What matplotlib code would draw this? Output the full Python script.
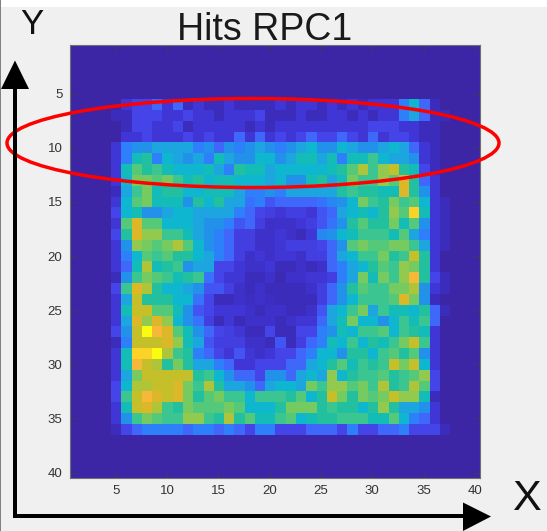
import numpy as np
import matplotlib
matplotlib.use("Agg")
import matplotlib.pyplot as plt
from matplotlib.colors import LinearSegmentedColormap
from matplotlib.patches import Ellipse, Polygon, Rectangle

plt.rcParams['font.family'] = ['Liberation Sans', 'DejaVu Sans']

title = "Hits RPC1"
x_ticks = [5, 10, 15, 20, 25, 30, 35, 40]
y_ticks = [5, 10, 15, 20, 25, 30, 35, 40]
n_cells = 40
first_row = 6
first_col = 5

# hit levels, columns 5..37
row_06 = [0,2,3,3,4,2,4,1,2,1,1,2,1,1,1,1,2,1,2,2,1,2,1,2,1,2,2,2,5,8,4,1,0]
row_07 = [1,1,3,3,3,2,2,3,2,2,1,2,2,2,3,1,1,1,2,1,1,2,2,1,2,1,2,2,5,7,4,1,1]
row_08 = [0,1,3,3,2,2,3,1,2,2,2,2,2,1,2,1,2,2,2,2,2,2,2,2,2,3,3,3,2,2,1,1,0]
row_09 = [0,2,2,3,2,2,2,3,2,3,2,2,4,2,4,2,3,2,3,4,3,3,4,3,2,4,2,3,3,2,1,1,0]
row_10 = [2,5,6,6,7,7,7,7,5,6,4,6,5,6,7,6,5,6,7,8,6,6,8,7,6,6,7,8,7,4,2,1,0]
row_11 = [2,5,9,10,5,8,7,6,7,5,9,7,6,6,8,8,6,7,9,9,7,9,5,9,9,11,8,7,7,6,2,1,0]
row_12 = [2,9,12,10,11,9,8,8,8,9,7,5,10,9,9,7,8,8,8,8,8,9,10,12,15,11,14,16,10,9,3,1,0]
row_13 = [2,8,13,13,12,13,11,9,10,8,9,9,8,8,8,7,8,6,6,9,10,7,9,13,11,11,14,12,17,10,4,2,0]
row_14 = [1,7,11,13,9,10,10,8,8,9,9,9,7,5,5,6,5,7,7,7,7,7,10,11,10,10,9,9,17,10,6,2,0]
row_15 = [2,8,12,13,9,9,9,6,10,8,10,7,7,4.5,5,3.5,4,4,4,4,4.5,5.5,6,8,13,11,10,13,11,12,8,2,1]
row_16 = [3,8,9,6,6,7,8,8,7,7,7,7,5,4,3,2.5,2,2.5,2.5,2,3.5,4,7,8,9,8,10,14,12,19,9,2,1]
row_17 = [2,12,17,12,12,8,8,8,7,6,6,5,3.5,4,2.5,1.5,1.5,1.5,2,2.5,3.5,4.5,6,10,12,10,10,13,9,12,6,2,1]
row_18 = [3,10,17,14,14,11,11,9,7,6,5,4,2.5,2.5,1.5,1.5,2,1.5,1,2,5.5,6,8,9,11,11,11,9,12,7,5,2,1]
row_19 = [2,6,14,13,12,13,15,12,8,6,5,4,2.5,2.5,1.5,1.5,2,2.5,2.5,2.5,3,4,6,12,13,12,12,13,13,11,7,2,1]
row_20 = [2,5,8,12,11,12,10,10,8,7,5,4,2.5,1.5,2,1.5,2,2,1.5,2.5,2.5,4,7,8,11,11,13,10,11,16,10,2,0]
row_21 = [2,4,9,15,9,10,11,6,7,7,3,3,2,1.5,1.5,2,1,1,1.5,1,1.5,4,5,7,8,10,12,11,14,13,10,2,0]
row_22 = [1,6,11,13,12,11,9,10,11,4.5,3,2,2,1,1,1.5,0.7,1.5,1.5,2,2,2.5,5,7,13,9,13,11,14,18,10,3,1]
row_23 = [3,11,17,15,10,8,8,7,6,3.5,3.5,2.5,1.5,1,1.5,1,1,1,1,1.5,2.5,4,6,10,12,11,11,13,13,15,6,2,1]
row_24 = [2,7,16,10,10,10,8,8,4.5,3,1,1,1.5,1.2,1.5,1.2,1,1,1,1,2.5,4,6,8,11,11,11,12,17,13,6,1,0]
row_25 = [2,9,16,16,12,12,9,6,3.5,3,2,2,2,1.5,1,1.5,1.5,1,1,1.5,3.5,7,8,11,13,7,11,9,9,8,10,4,1]
row_26 = [2,7,17,14,17,14,8,6,4.5,2.5,1,2,0.8,1.5,1.5,1.5,1,1.5,2,2,4,7,9,13,8,8,6,8,11,9,11,4,0]
row_27 = [3,6,16,20,18,17,12,9,6,4,3,2.5,2,1,1,3,1,1,3,3,5,6,9,8,11,11,12,8,11,10,9,2,0]
row_28 = [1,5,16,16,16,17,14,9,7,3.5,2.5,2.5,2.5,1.5,1.5,1,3.5,1,2.5,4,5,9,8,11,8,10,9,11,13,16,11,2,0]
row_29 = [2,9,19,19,20,15,11,10,5,4,3,2,3.5,2,1.5,2,3,3,4,5,8,8,6,10,10,8,11,12,10,12,6,2,0]
row_30 = [2,9,18,16,15,10,13,10,7,7,5,4,2,2,3,3,3,4,4,7,8,10,12,9,11,10,11,16,13,16,8,2,0]
row_31 = [2,7,13,16,16,16,16,16,10,11,8,6,4,4,3,6,6,4,7,8,7,14,8,10,11,11,12,10,11,12,14,3,0]
row_32 = [3,8,15,15,16,16,17,13,11,15,10,7,7,6,4,7,8,8,7,13,11,14,14,12,13,11,15,10,11,15,12,3,0]
row_33 = [3,11,16,18,17,16,17,13,10,12,13,11,11,8,11,11,11,10,12,8,10,16,13,10,13,12,13,16,14,14,9,1,0]
row_34 = [2,9,16,17,15,11,10,13,12,12,12,13,12,8,8,8,10,13,13,13,10,11,10,10,8,10,14,10,7,7,6,2,0]
row_35 = [2,6,11,13,12,11,11,14,14,11,10,15,10,12,9,9,11,12,8,9,10,10,11,11,11,9,9,12,8,5,4,2,0]
row_36 = [1,3,4,5,5,5,5,4,5,5,4,5,4,3,5,5,3,3,3,4,4,4,3,5,3,3,4,4,5,3,3,3,1]

rows = [row_06, row_07, row_08, row_09, row_10, row_11, row_12, row_13, row_14, row_15,
        row_16, row_17, row_18, row_19, row_20, row_21, row_22, row_23, row_24, row_25,
        row_26, row_27, row_28, row_29, row_30, row_31, row_32, row_33, row_34, row_35, row_36]

hits = np.zeros((n_cells, n_cells))
hits[first_row - 1:first_row - 1 + len(rows), first_col - 1:first_col - 1 + len(row_06)] = np.array(rows)

level_colors = ["#3c26a6", "#3c2dbe", "#4037d6", "#4545ea", "#3f68fa", "#2f80fb", "#2192ea",
                "#1ca6de", "#0eb6d0", "#14bcb8", "#22c0a0", "#3cc690", "#55c97a", "#75cc60",
                "#90cb50", "#aec63a", "#c5bf2a", "#dcb828", "#f5b83a", "#fdd028", "#fafc10"]
parula = LinearSegmentedColormap.from_list("parula_like", level_colors, N=256)

W, H = 547, 531
fig = plt.figure(figsize=(W / 100, H / 100), dpi=100, facecolor="#f0f0f0")

L, R, T, B = 69.5, 480.0, 45.0, 478.0
ax = fig.add_axes([L / W, 1 - B / H, (R - L) / W, (B - T) / H])
ax.imshow(hits, cmap=parula, vmin=0, vmax=20, aspect="auto", interpolation="nearest",
          extent=(0.5, n_cells + 0.5, n_cells + 0.5, 0.5))
ax.set_xticks(x_ticks)
ax.set_yticks(y_ticks)
ax.tick_params(direction="in", length=4, width=0.6, color="#404040", labelcolor="#333333",
               labelsize=9.5, top=True, right=True, pad=5)
for s in ax.spines.values():
    s.set_color("#707070")
    s.set_linewidth(0.8)

ov = fig.add_axes([0, 0, 1, 1], facecolor="none")
ov.set_xlim(0, W)
ov.set_ylim(H, 0)
ov.axis("off")
ov.add_patch(Rectangle((0, 0), W, 6.5, facecolor="white", edgecolor="none"))
ov.add_patch(Rectangle((0, 0), 1.2, H, facecolor="#7d8285", edgecolor="none"))
ov.add_patch(Ellipse((253, 143), 492, 89, fill=False, edgecolor="#ff0000", linewidth=2.5))

ov.add_patch(Rectangle((13.2, 85), 3.6, 432.5, facecolor="black", edgecolor="none"))
ov.add_patch(Rectangle((13.2, 514.3), 452, 3.8, facecolor="black", edgecolor="none"))
ov.add_patch(Polygon([(15, 60.5), (1, 89), (29, 89)], closed=True, facecolor="black", edgecolor="none"))
ov.add_patch(Polygon([(491, 516.5), (463, 502.5), (463, 531)], closed=True, facecolor="black", edgecolor="none"))

ov.text(265, 30, title, fontsize=27, ha="center", va="center", color="#1a1a1a")
ov.text(31.5, 24.5, "Y", fontsize=25, ha="center", va="center", color="#111111")
ov.text(526, 498.5, "X", fontsize=31, ha="center", va="center", color="#111111")

fig.savefig("out.png", dpi=100, facecolor=fig.get_facecolor())
